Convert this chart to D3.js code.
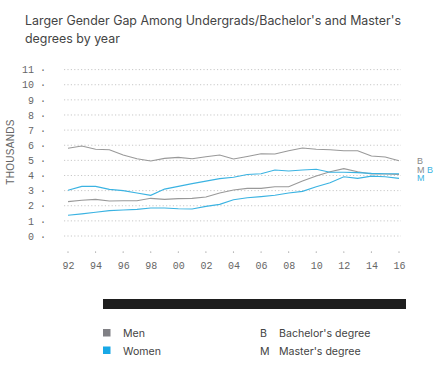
<!DOCTYPE html>
<html><head><meta charset="utf-8">
<script src="https://cdn.jsdelivr.net/npm/d3@7"></script>
<style>body{margin:0;background:#fff}svg{display:block}</style>
</head><body><svg id="c" width="441" height="367"></svg>
<script>
const years = d3.range(1992, 2017);
const menBachelor =   [5.80,5.95,5.73,5.70,5.35,5.11,4.96,5.13,5.20,5.11,5.24,5.35,5.09,5.26,5.44,5.42,5.64,5.82,5.73,5.70,5.64,5.64,5.29,5.22,4.98];
const womenBachelor = [3.02,3.28,3.28,3.08,3.00,2.84,2.69,3.10,3.28,3.46,3.63,3.79,3.88,4.07,4.12,4.36,4.30,4.36,4.41,4.21,4.21,4.19,4.14,4.12,4.12];
const menMaster =     [2.27,2.36,2.42,2.31,2.33,2.33,2.49,2.42,2.47,2.49,2.58,2.84,3.04,3.15,3.15,3.26,3.26,3.63,3.96,4.25,4.45,4.25,4.10,4.10,4.07];
const womenMaster =   [1.37,1.46,1.57,1.68,1.72,1.76,1.85,1.85,1.80,1.78,1.96,2.09,2.40,2.53,2.60,2.69,2.84,2.95,3.26,3.52,3.92,3.81,3.96,3.92,3.81];
const yTicks = d3.range(0, 12);
const xTicks = d3.range(1992, 2017, 2);
const title = ["Larger Gender Gap Among Undergrads/Bachelor's and Master's", "degrees by year"];

const GRAY = "#999999", BLUE = "#3bb3e2";
const svg = d3.select("#c");
const x = d3.scaleLinear().domain([1992, 2016]).range([68, 399]);
const y = d3.scaleLinear().domain([0, 11]).range([236, 69.6]);

svg.append("g").selectAll("text").data(title).join("text")
  .attr("x", 25).attr("y", (d,i)=>25+i*17.5)
  .attr("font-family","Inter, Lato, sans-serif").attr("font-size",12.4).attr("fill","#444")
  .text(d=>d);

// grid
svg.append("g").selectAll("line").data(yTicks).join("line")
  .attr("x1",64).attr("x2",401).attr("y1",d=>y(d)).attr("y2",d=>y(d))
  .attr("stroke","#c8c8c8").attr("stroke-width",1).attr("stroke-dasharray","1.2,2.2");

// y axis
const ya = svg.append("g").attr("transform","translate(46,0)")
  .call(d3.axisLeft(y).tickValues(yTicks).tickSize(0).tickPadding(0).tickFormat(d=>d+" ·"));
ya.select(".domain").remove();
ya.selectAll("text").attr("font-family","'Liberation Mono', 'DejaVu Sans Mono', monospace").attr("font-size",10).attr("fill","#666");

svg.append("text").attr("transform","translate(14,152) rotate(-90)").attr("text-anchor","middle")
  .attr("font-family","'Liberation Sans', Arial, sans-serif").attr("font-size",10).attr("fill","#666").attr("letter-spacing",0.3)
  .text("THOUSANDS");

// x axis
const xa = svg.append("g").attr("transform","translate(0,262)")
  .call(d3.axisBottom(x).tickValues(xTicks).tickSize(0).tickPadding(0).tickFormat(d=>String(d).slice(2)));
xa.select(".domain").remove();
xa.selectAll("text").attr("font-family","'Liberation Mono', 'DejaVu Sans Mono', monospace").attr("font-size",10).attr("fill","#666").attr("dy","0.7em");
svg.append("g").selectAll("circle").data(xTicks).join("circle")
  .attr("cx",d=>x(d)).attr("cy",252).attr("r",0.6).attr("fill","#777");

// lines
const line = d3.line().x((d,i)=>x(years[i])).y(d=>y(d));
const series = [
  {v: menBachelor, c: GRAY},
  {v: menMaster, c: GRAY},
  {v: womenBachelor, c: BLUE},
  {v: womenMaster, c: BLUE}
];
svg.append("g").selectAll("path").data(series).join("path")
  .attr("d",d=>line(d.v)).attr("fill","none").attr("stroke",d=>d.c).attr("stroke-width",1.1);

// end labels
const lab = svg.append("g").attr("font-family","'Liberation Sans', Arial, sans-serif").attr("font-size",9);
lab.append("text").attr("x",417).attr("y",164).attr("fill","#888").text("B");
lab.append("text").attr("x",417).attr("y",172.5).attr("fill","#888").text("M");
lab.append("text").attr("x",427).attr("y",172.5).attr("fill",BLUE).text("B");
lab.append("text").attr("x",417).attr("y",181).attr("fill",BLUE).text("M");

// black bar
svg.append("rect").attr("x",103).attr("y",299).attr("width",303).attr("height",10).attr("fill","#1e1e1e");

// legend
const lg = svg.append("g").attr("font-family","Inter, Lato, sans-serif").attr("font-size",10.6).attr("fill","#444");
const legendItems = [{t:"Men", c:"#808085"},{t:"Women", c:"#18a8e6"}];
legendItems.forEach((d,i)=>{
  lg.append("rect").attr("x",103).attr("y",329+i*17.5).attr("width",7.5).attr("height",7.5).attr("fill",d.c);
  lg.append("text").attr("x",123).attr("y",337+i*17.5).text(d.t);
});
const legend2 = [{k:"B", t:"Bachelor's degree"},{k:"M", t:"Master's degree"}];
legend2.forEach((d,i)=>{
  lg.append("text").attr("x",260).attr("y",337+i*17.5).text(d.k);
  lg.append("text").attr("x",279).attr("y",337+i*17.5).text(d.t);
});
</script></body></html>
